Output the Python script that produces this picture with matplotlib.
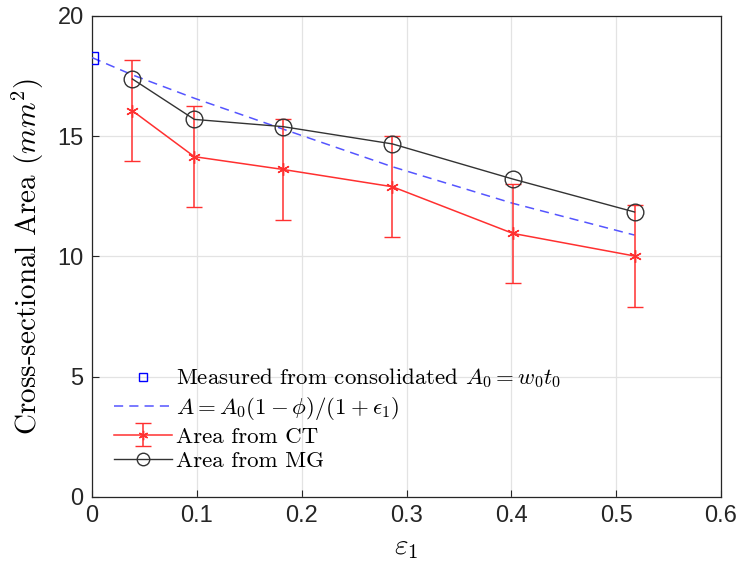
import numpy as np
from matplotlib import pyplot as plt

plt.rcParams['mathtext.fontset'] = 'cm'
plt.rcParams['axes.unicode_minus'] = False

# measured value at zero strain
eps0 = [0.0]
a0 = [18.27]

# model curve A = A0(1-phi)/(1+eps)
eps_model = [0.0, 0.0385, 0.0976, 0.182, 0.2866, 0.4014, 0.5175]
a_model = [18.27, 17.55, 16.58, 15.30, 13.73, 12.21, 10.89]

# area from CT with error bars
eps_ct = [0.0385, 0.0976, 0.182, 0.2866, 0.4014, 0.5175]
a_ct = [16.06, 14.15, 13.62, 12.90, 10.96, 10.02]
err_ct = [2.10, 2.10, 2.11, 2.10, 2.07, 2.10]

# area from MG
eps_mg = [0.0385, 0.0976, 0.182, 0.2866, 0.4014, 0.5175]
a_mg = [17.38, 15.70, 15.40, 14.68, 13.22, 11.85]

xticks = [0, 0.1, 0.2, 0.3, 0.4, 0.5, 0.6]
yticks = [0, 5, 10, 15, 20]

fig = plt.figure(figsize=(7.41, 5.75), dpi=100)
ax = fig.add_axes([0.1242, 0.1357, 0.8488, 0.8365])

h1, = ax.plot(eps0, a0, 's', color='#0000ff', mfc='none', ms=8, mew=1,
              label=r'Measured from consolidated $A_0=w_0t_0$', zorder=4)
h2, = ax.plot(eps_model, a_model, '--', color='#5555ff', lw=1.1, dashes=(6, 4),
              label=r'$A=A_0(1-\phi)/(1+\epsilon_1)$', zorder=3)
h3 = ax.errorbar(eps_ct, a_ct, yerr=err_ct, color='#ff3030', lw=1.1, marker=(6, 2, 0),
                 ms=9, mew=1, capsize=6, elinewidth=1.1, label='Area from CT', zorder=3)
h4, = ax.plot(eps_mg, a_mg, '-', color='#333333', lw=1.0, marker='o', mfc='none',
              ms=12, mew=1, label='Area from MG', zorder=4)

ax.set_xlim(0, 0.6)
ax.set_ylim(0, 20)
ax.set_xticks(xticks)
ax.set_yticks(yticks)
ax.set_xticklabels(['0', '0.1', '0.2', '0.3', '0.4', '0.5', '0.6'],
                   fontfamily='Liberation Sans', fontsize=17)
ax.set_yticklabels([str(t) for t in yticks], fontfamily='Liberation Sans', fontsize=17)
ax.tick_params(direction='in', length=5, color='#262626', labelcolor='#262626', pad=6)
ax.grid(True, color='#e3e3e3', lw=0.9)
ax.set_axisbelow(True)
for s in ax.spines.values():
    s.set_color('#262626')
    s.set_linewidth(0.9)

ax.set_xlabel(r'$\varepsilon_1$', fontsize=21, labelpad=4)
ax.set_ylabel(r'Cross-sectional Area $(mm^2)$', fontsize=21, fontfamily='cmr10', labelpad=8)

leg = ax.legend([h1, h2, h3, h4], [h.get_label() for h in [h1, h2, h3, h4]],
                loc='lower left', bbox_to_anchor=(0.01, 0.02), frameon=False,
                prop={'family': 'cmr10', 'size': 16.5}, handlelength=2.5,
                handletextpad=0.2, labelspacing=0.2, borderaxespad=0.3,
                markerscale=0.75)

plt.savefig('out.png', dpi=100)
